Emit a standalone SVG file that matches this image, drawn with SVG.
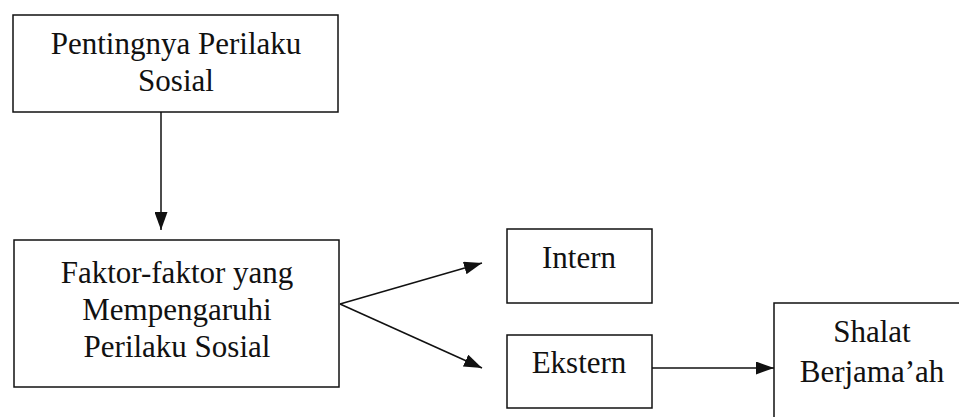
<svg xmlns="http://www.w3.org/2000/svg" width="959" height="417" viewBox="0 0 959 417">
<defs>
<style>
.box{fill:#fff;stroke:#111;stroke-width:1.5}
.t{font-family:"Liberation Serif","Times New Roman",serif;font-size:31px;fill:#111;text-anchor:middle}
.c{stroke:#111;stroke-width:1.5;fill:none}
</style>
<marker id="ah" viewBox="0 0 18 13" refX="18" refY="6.5" markerWidth="18" markerHeight="13" markerUnits="userSpaceOnUse" orient="auto">
<path d="M0,0 L18,6.5 L0,13 Z" fill="#111"/>
</marker>
</defs>
<rect width="959" height="417" fill="#fff"/>
<g id="connectors">
<line class="c" x1="161" y1="112" x2="161" y2="230" marker-end="url(#ah)"/>
<line class="c" x1="340" y1="304" x2="482" y2="263" marker-end="url(#ah)"/>
<line class="c" x1="340" y1="304" x2="482" y2="368" marker-end="url(#ah)"/>
<line class="c" x1="652" y1="368" x2="774" y2="368" marker-end="url(#ah)"/>
</g>
<g id="pentingnya">
<rect class="box" x="13" y="15" width="325" height="97"/>
<text class="t" x="176" y="54">Pentingnya Perilaku</text>
<text class="t" x="176" y="91">Sosial</text>
</g>
<g id="faktor">
<rect class="box" x="14" y="240" width="325" height="147"/>
<text class="t" x="177" y="283">Faktor-faktor yang</text>
<text class="t" x="177" y="320">Mempengaruhi</text>
<text class="t" x="177" y="357">Perilaku Sosial</text>
</g>
<g id="intern">
<rect class="box" x="507" y="229" width="145" height="74"/>
<text class="t" x="579" y="268">Intern</text>
</g>
<g id="ekstern">
<rect class="box" x="507" y="335" width="145" height="73"/>
<text class="t" x="579" y="373">Ekstern</text>
</g>
<g id="shalat">
<rect class="box" x="774" y="303" width="190" height="130"/>
<text class="t" x="872" y="342">Shalat</text>
<text class="t" x="872" y="382">Berjama’ah</text>
</g>
</svg>
